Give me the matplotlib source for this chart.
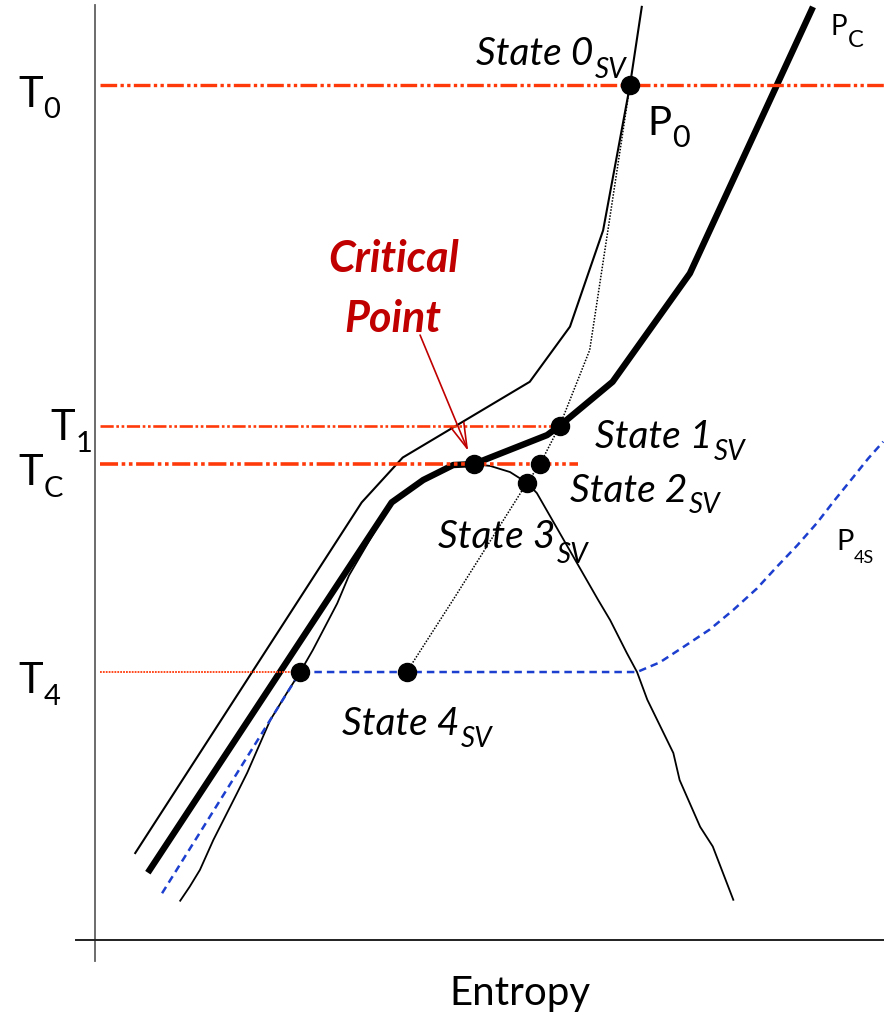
import matplotlib
matplotlib.use("Agg")
import matplotlib.pyplot as plt

plt.rcParams['font.family'] = ['Lato', 'DejaVu Sans']

# ---- data (entropy s, temperature T; arbitrary units 0-100) ----
T0, T1, TC, T4 = 91.4, 55.0, 50.9, 28.66

# Critical isobar P_C (thick)
pc_s = [6.7, 37.6, 41.6, 45.4, 48.0, 57.3, 58.9, 65.6, 75.4, 91.0]
pc_T = [7.2, 46.8, 49.2, 50.8, 50.9, 54.0, 55.0, 59.7, 71.3, 99.8]

# Supercritical isobar P_0 (thin)
p0_s = [5.1, 33.8, 39.0, 55.1, 60.2, 64.4, 67.8, 69.3]
p0_T = [9.3, 46.8, 51.6, 59.7, 65.6, 75.9, 91.4, 99.8]

# Saturation dome
dome_s = [10.8, 12.0, 13.3, 15.0, 18.0, 19.3, 22.2, 24.3, 26.0, 27.6, 30.7, 32.2,
          37.6, 41.6, 45.4, 48.0, 50.1, 52.6, 54.75, 56.0, 63.75, 65.3, 67.4,
          68.7, 70.0, 73.3, 74.1, 76.7, 78.3, 80.9]
dome_T = [4.2, 5.7, 7.5, 10.7, 15.7, 17.9, 23.5, 26.4, 28.66, 31.0, 36.0, 39.0,
          46.8, 49.2, 50.8, 50.9, 50.7, 50.05, 48.9, 47.8, 36.4, 34.2, 30.7,
          28.66, 25.7, 20.0, 17.1, 12.1, 10.0, 4.3]

# Sub-critical isobar P_4S (blue dashed)
p4_s = [8.5, 26.0, 68.7, 71.6, 74.5, 77.9, 80.9, 83.9, 86.4, 89.0, 91.5,
        93.8, 96.1, 98.0, 99.9]
p4_T = [5.0, 28.66, 28.66, 29.7, 31.3, 33.2, 35.3, 37.6, 39.9, 42.2, 44.6,
        47.1, 49.5, 51.5, 53.3]

# Expansion path (dotted)
exp_s = [67.8, 62.7, 58.9, 56.4, 54.75, 45.4, 39.5]
exp_T = [91.4, 63.1, 55.0, 50.9, 48.9, 36.4, 28.66]

# Marked states
state_s = [67.8, 58.9, 56.4, 54.75, 39.5, 26.0, 48.0]
state_T = [T0, T1, TC, 48.9, T4, T4, TC]

# ---- figure ----
W, H = 884, 1016
fig = plt.figure(figsize=(W / 100, H / 100), dpi=100)
ax = fig.add_axes([95 / W, (H - 940) / H, 789 / W, 935 / H])
ax.set_xlim(0, 100)
ax.set_ylim(0, 100)
ax.axis('off')

# axis lines
ax.plot([0, 0], [-2.25, 100], color='#606060', lw=1.3, clip_on=False)
ax.plot([-2.4, 100], [0, 0], color='#202020', lw=1.4, clip_on=False)

red = '#FF3A0A'
dashdot = (0, (5, 1, 1, 1, 1, 1))
ax.plot([0.6, 100], [T0, T0], color=red, lw=2.4, ls=dashdot, zorder=4)
ax.plot([0.6, state_s[1]], [T1, T1], color=red, lw=1.9, ls=dashdot, zorder=4)
ax.plot([0.6, 61.2], [TC, TC], color=red, lw=2.6, ls=dashdot, zorder=4)
ax.plot([0.6, state_s[5]], [T4, T4], color=red, lw=1.3, ls=(0, (1, 0.6)), zorder=4)

ax.plot(dome_s, dome_T, color='black', lw=1.3, zorder=2)
ax.plot(p0_s, p0_T, color='black', lw=1.5, zorder=2)
ax.plot(pc_s, pc_T, color='black', lw=4.6, zorder=3, solid_capstyle='butt')
ax.plot(p4_s, p4_T, color='#1d3fcf', lw=1.8, ls=(0, (3, 2)), zorder=3)
ax.plot(exp_s, exp_T, color='black', lw=1.1, ls=(0, (1, 1)), zorder=3)

ax.plot(state_s, state_T, 'o', color='black', ms=13, zorder=6)

# annotations
def label(x, y, main, sub, size, subsize, ysub, style='normal', gap=1):
    t = ax.text(x, y, main, fontsize=size, style=style, ha='left',
                va='baseline', color='black')
    ax.annotate(sub, xy=(1, ysub), xycoords=(t, 'data'),
                xytext=(gap, 0), textcoords='offset pixels',
                fontsize=subsize, style=style, ha='left', va='baseline',
                color='black')

label(-9.76, 89.1, 'T', '0', 30, 21, 87.9)
label(-5.70, 53.5, 'T', '1', 30, 21, 52.2)
label(-9.76, 48.7, 'T', 'C', 30, 21, 47.4)
label(-9.76, 26.4, 'T', '4', 30, 21, 25.1)

label(48.3, 93.6, 'State 0', 'SV', 28, 20, 92.2, style='italic')
label(63.4, 52.6, 'State 1', 'SV', 28, 20, 51.3, style='italic')
label(60.2, 46.8, 'State 2', 'SV', 28, 20, 45.7, style='italic')
label(43.5, 41.9, 'State 3', 'SV', 28, 20, 40.3, style='italic')
label(31.3, 21.9, 'State 4', 'SV', 28, 20, 20.6, style='italic')

label(70.0, 86.1, 'P', '0', 29, 22, 84.8)
label(93.2, 96.8, 'P', 'C', 20, 17, 95.5)
label(94.0, 41.7, 'P', '4S', 21, 13, 40.3, gap=0)

ax.text(53.9, -6.95, 'Entropy', fontsize=29, ha='center', va='baseline',
        color='black', clip_on=False)

crit = '#C00000'
ax.text(37.8, 71.4, 'Critical', fontsize=31, style='italic', weight='bold',
        ha='center', va='baseline', color=crit)
ax.text(37.8, 65.0, 'Point', fontsize=31, style='italic', weight='bold',
        ha='center', va='baseline', color=crit)
ax.annotate('', xy=(47.3, 52.3), xytext=(41.2, 64.7),
            arrowprops=dict(arrowstyle='->, head_length=0.9, head_width=0.25',
                            color=crit, lw=1.2, shrinkA=0, shrinkB=0,
                            mutation_scale=20), zorder=5)

fig.savefig('out.png', dpi=100, facecolor='white')
